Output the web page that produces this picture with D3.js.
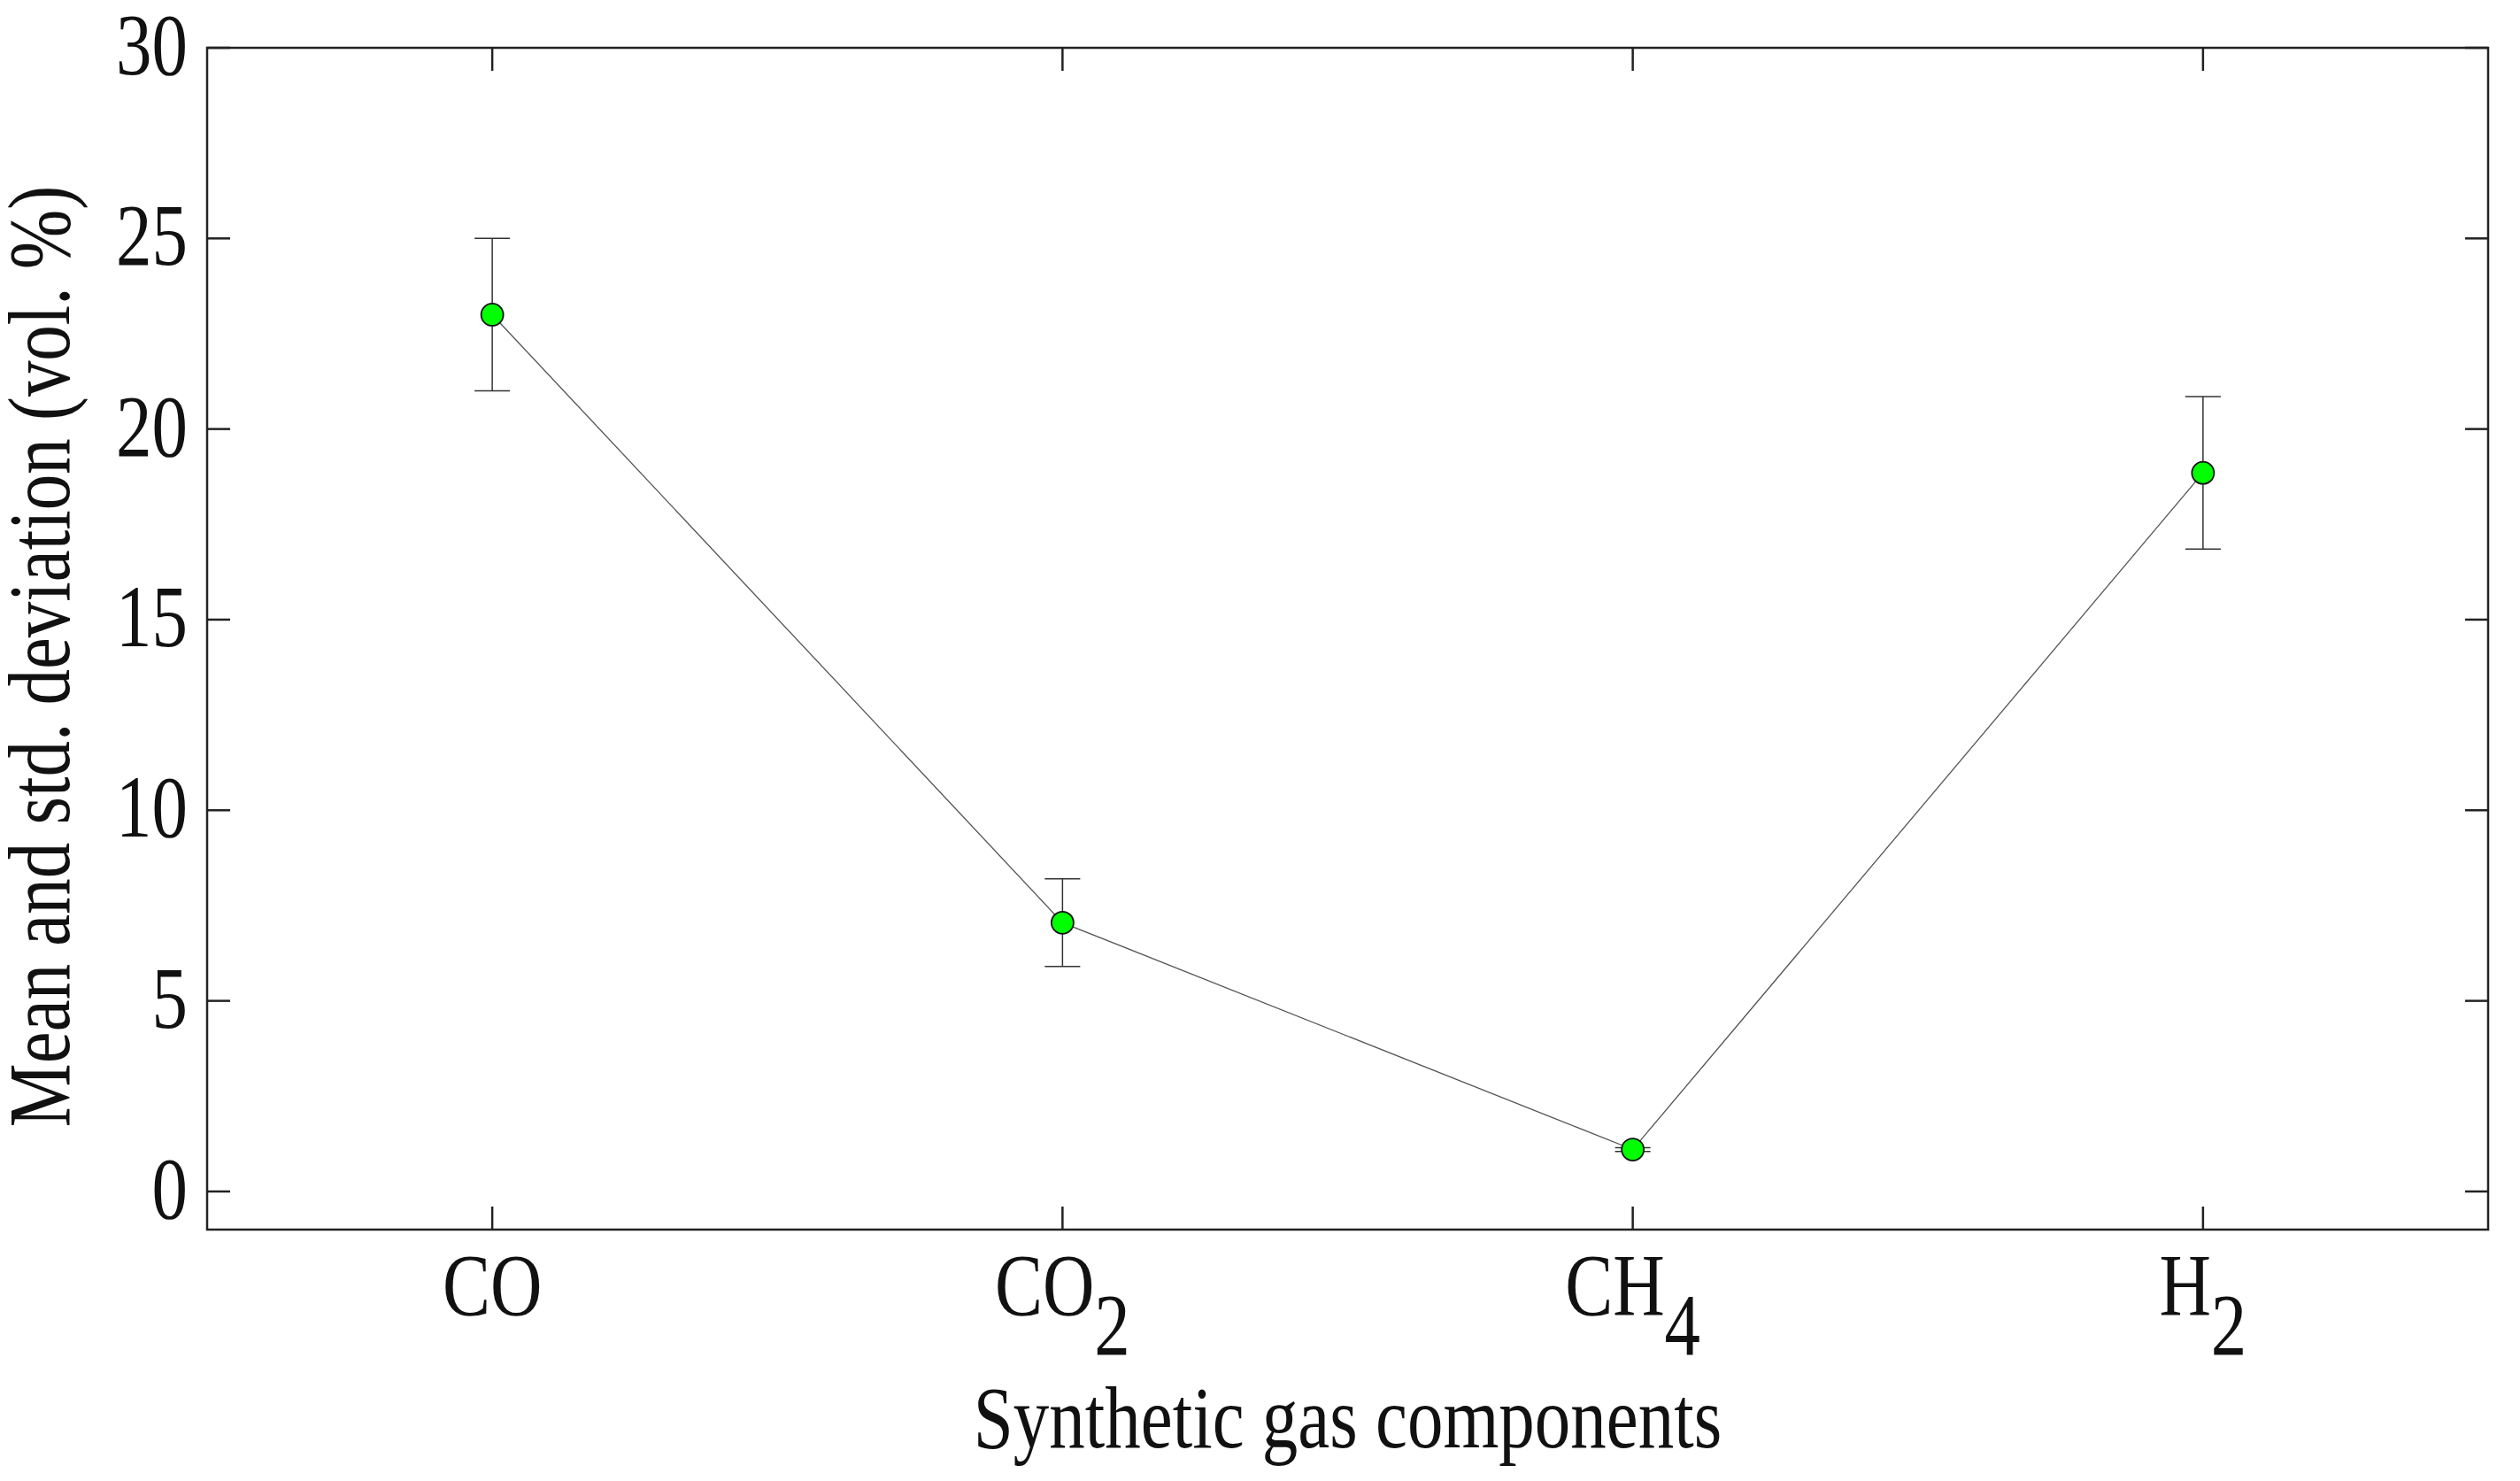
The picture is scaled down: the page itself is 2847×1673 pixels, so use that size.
<!DOCTYPE html>
<html>
<head>
<script src="https://cdn.jsdelivr.net/npm/d3@7"></script>
<style>body{margin:0;background:#fff}</style>
</head>
<body>
<svg width="2847" height="1673"></svg>
<script>
const categories = ["CO", "CO2", "CH4", "H2"];
const labelMain = ["CO", "CO", "CH", "H"];
const labelSub = ["", "2", "4", "2"];
const means = [23.0, 7.05, 1.1, 18.85];
const stds = [2.0, 1.15, 0.05, 2.0];
const yTicks = [0, 5, 10, 15, 20, 25, 30];

const svg = d3.select("svg");
const L = 234, R = 2811, T = 54, B = 1389;
const x = d3.scaleLinear().domain([0.5, 4.5]).range([L, R]);
const y = d3.scaleLinear().domain([-1, 30]).range([B, T]);
const font = "Liberation Serif";
const fs = 88;
const tl = 26;

const ax = svg.append("g").attr("stroke", "#222").attr("stroke-width", 2.5);
ax.append("rect").attr("x", L).attr("y", T).attr("width", R - L).attr("height", B - T).attr("fill", "none");
yTicks.forEach(v => {
  ax.append("line").attr("x1", L).attr("x2", L + tl).attr("y1", y(v)).attr("y2", y(v));
  ax.append("line").attr("x1", R).attr("x2", R - tl).attr("y1", y(v)).attr("y2", y(v));
});
categories.forEach((c, i) => {
  ax.append("line").attr("x1", x(i + 1)).attr("x2", x(i + 1)).attr("y1", B).attr("y2", B - tl);
  ax.append("line").attr("x1", x(i + 1)).attr("x2", x(i + 1)).attr("y1", T).attr("y2", T + tl);
});

// condensed tall glyphs like the reference: stretch vertically
function tallText(g, tx, ty) {
  return g.append("text").attr("transform", `translate(${tx},${ty}) scale(0.92,1.12)`)
    .attr("font-family", font).attr("font-size", fs).attr("fill", "#111");
}

yTicks.forEach(v => {
  tallText(svg, L - 22, y(v) + 30).attr("text-anchor", "end").text(v);
});

categories.forEach((c, i) => {
  const t = tallText(svg, x(i + 1), 1485).attr("text-anchor", "middle");
  t.append("tspan").text(labelMain[i]);
  t.append("tspan").attr("dy", 40).text(labelSub[i]);
});

tallText(svg, (L + R) / 2, 1635).attr("text-anchor", "middle").text("Synthetic gas components");
svg.append("text").attr("transform", `translate(78,${(T + B) / 2 + 20}) rotate(-90) scale(0.92,1.12)`)
  .attr("text-anchor", "middle").attr("font-family", font).attr("font-size", fs)
  .attr("fill", "#111").text("Mean and std. deviation (vol. %)");

// error bars
const eb = svg.append("g").attr("stroke", "#333").attr("stroke-width", 1.5);
means.forEach((m, i) => {
  const cx = x(i + 1);
  eb.append("line").attr("x1", cx).attr("x2", cx).attr("y1", y(m - stds[i])).attr("y2", y(m + stds[i]));
  [m - stds[i], m + stds[i]].forEach(v =>
    eb.append("line").attr("x1", cx - 20).attr("x2", cx + 20).attr("y1", y(v)).attr("y2", y(v)));
});

svg.append("path").datum(means)
  .attr("d", d3.line().x((d, i) => x(i + 1)).y(d => y(d)))
  .attr("fill", "none").attr("stroke", "#555").attr("stroke-width", 1.3);

svg.selectAll(".pt").data(means).enter().append("circle")
  .attr("cx", (d, i) => x(i + 1)).attr("cy", d => y(d)).attr("r", 12.5)
  .attr("fill", "#00ff00").attr("stroke", "#111").attr("stroke-width", 1.8);
</script>
</body>
</html>
